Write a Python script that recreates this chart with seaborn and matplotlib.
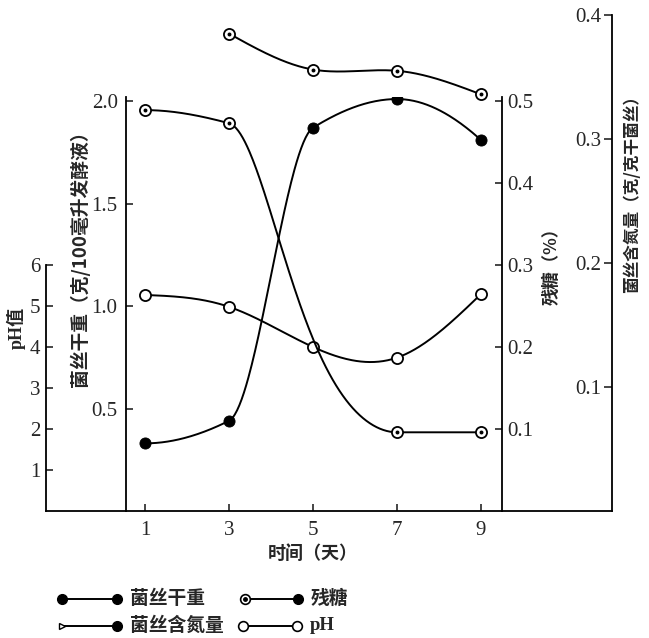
import numpy as np
import pandas as pd
import matplotlib
matplotlib.use("Agg")
import matplotlib.pyplot as plt
import seaborn as sns
from matplotlib.lines import Line2D

# ---------------- data ----------------
days = [1, 3, 5, 7, 9]
dry_weight = [0.33, 0.44, 1.87, 2.01, 1.81]          # 菌丝干重 (克/100毫升发酵液)
sugar_days = [1, 3, 7, 9]
sugar = [0.489, 0.473, 0.096, 0.096]                 # 残糖 (%)
nitrogen_days = [3, 5, 7, 9]
nitrogen = [0.385, 0.356, 0.355, 0.336]              # 菌丝含氮量 (克/克干菌丝)
ph = [5.27, 4.98, 4.00, 3.74, 5.29]                  # pH值

x_ticks = [1, 3, 5, 7, 9]
dry_ticks = [0.5, 1.0, 1.5, 2.0]
sugar_ticks = [0.1, 0.2, 0.3, 0.4, 0.5]
nitrogen_ticks = [0.1, 0.2, 0.3, 0.4]
ph_ticks = [1, 2, 3, 4, 5, 6]

# ---------------- smooth rendering helpers ----------------
def pchip(x, y, n=300):
    x = np.asarray(x, float); y = np.asarray(y, float)
    h = np.diff(x); d = np.diff(y) / h
    m = np.zeros_like(y)
    for k in range(1, len(x) - 1):
        if d[k - 1] * d[k] > 0:
            w1 = 2 * h[k] + h[k - 1]; w2 = h[k] + 2 * h[k - 1]
            m[k] = (w1 + w2) / (w1 / d[k - 1] + w2 / d[k])

    def end(h0, h1, d0, d1):
        mm = ((2 * h0 + h1) * d0 - h0 * d1) / (h0 + h1)
        if np.sign(mm) != np.sign(d0):
            mm = 0.0
        elif np.sign(d0) != np.sign(d1) and abs(mm) > abs(3 * d0):
            mm = 3 * d0
        return mm
    m[0] = end(h[0], h[1], d[0], d[1])
    m[-1] = end(h[-1], h[-2], d[-1], d[-2])
    xs = np.linspace(x[0], x[-1], n)
    idx = np.clip(np.searchsorted(x, xs) - 1, 0, len(x) - 2)
    t = (xs - x[idx]) / h[idx]
    h00 = 2 * t**3 - 3 * t**2 + 1; h10 = t**3 - 2 * t**2 + t
    h01 = -2 * t**3 + 3 * t**2; h11 = t**3 - t**2
    ys = h00 * y[idx] + h10 * h[idx] * m[idx] + h01 * y[idx + 1] + h11 * h[idx] * m[idx + 1]
    return xs, ys


def log_pchip(x, y, n=300):
    xs, ly = pchip(x, np.log(np.asarray(y, float)), n)
    return xs, np.exp(ly)


def natural_spline(x, y, n=300):
    x = np.asarray(x, float); y = np.asarray(y, float)
    N = len(x); h = np.diff(x)
    A = np.zeros((N, N)); b = np.zeros(N)
    A[0, 0] = 1; A[-1, -1] = 1
    for i in range(1, N - 1):
        A[i, i - 1] = h[i - 1]; A[i, i] = 2 * (h[i - 1] + h[i]); A[i, i + 1] = h[i]
        b[i] = 6 * ((y[i + 1] - y[i]) / h[i] - (y[i] - y[i - 1]) / h[i - 1])
    M = np.linalg.solve(A, b)
    xs = np.linspace(x[0], x[-1], n)
    idx = np.clip(np.searchsorted(x, xs) - 1, 0, N - 2)
    xi, xi1, hi = x[idx], x[idx + 1], h[idx]
    ys = (M[idx] * (xi1 - xs)**3 / (6 * hi) + M[idx + 1] * (xs - xi)**3 / (6 * hi)
          + (y[idx] / hi - M[idx] * hi / 6) * (xi1 - xs)
          + (y[idx + 1] / hi - M[idx + 1] * hi / 6) * (xs - xi))
    return xs, ys

# ---------------- style ----------------
sns.set_style("ticks")
plt.rcParams["font.family"] = ["Liberation Serif", "Noto Sans CJK SC", "DejaVu Sans"]
CJK = ["Noto Sans CJK SC", "DejaVu Sans"]
W, H = 649, 638
fig = plt.figure(figsize=(W / 100, H / 100), dpi=100)

def box(l, r, b, t):
    return [l / W, (H - b) / H, (r - l) / W, (b - t) / H]

LW = 1.4
MS = 64
BOT = 511

# main axes (dry weight) + twin (residual sugar)
ax = fig.add_axes(box(126, 502, BOT, 97))
ax.set_facecolor("none")
ax2 = ax.twinx()
ax2.set_position(box(126, 502, BOT, 97))
# pH axes
axp = fig.add_axes(box(46, 126, BOT, 265))
axp.set_facecolor("none")
# nitrogen axes
axn = fig.add_axes(box(502, 612, BOT, 15))
axn.set_facecolor("none")

# --- dry weight ---
xs, ys = pchip(days, dry_weight)
sns.lineplot(x=xs, y=ys, ax=ax, color="black", lw=LW, sort=False)
sns.scatterplot(x=days, y=dry_weight, ax=ax, color="black", s=MS, edgecolor="black", zorder=5)

# --- pH: x from main axes, y on the pH scale ---
xs, ys = natural_spline(days, ph)
ph_trans = matplotlib.transforms.blended_transform_factory(ax.transData, axp.transData)
ax.plot(xs, ys, color="black", lw=LW, transform=ph_trans)
ax.scatter(days, ph, s=MS, facecolor="white", edgecolor="black", lw=1.3,
           zorder=5, transform=ph_trans)

# --- sugar ---
xs, ys = log_pchip(sugar_days, sugar)
sns.lineplot(x=xs, y=ys, ax=ax2, color="black", lw=LW, sort=False)
sns.scatterplot(x=sugar_days, y=sugar, ax=ax2, s=MS, color="white", edgecolor="black",
                linewidth=1.3, zorder=5)
sns.scatterplot(x=sugar_days, y=sugar, ax=ax2, s=8, color="black", edgecolor="black",
                linewidth=0, zorder=6)

# --- nitrogen: x from main axes, y on the nitrogen scale ---
xs, ys = natural_spline(nitrogen_days, nitrogen)
n_trans = matplotlib.transforms.blended_transform_factory(ax.transData, axn.transData)
ax.plot(xs, ys, color="black", lw=LW, transform=n_trans, clip_on=False)
ax.scatter(nitrogen_days, nitrogen, s=MS, facecolor="white", edgecolor="black", lw=1.3,
           zorder=5, transform=n_trans, clip_on=False)
ax.scatter(nitrogen_days, nitrogen, s=8, color="black", lw=0,
           zorder=6, transform=n_trans, clip_on=False)

# ---------------- axes formatting ----------------
TICK_FS = 15
ax.set_xlim(0.548, 9.5)
ax.set_ylim(0, 2.02)
ax2.set_ylim(0, 0.505)
axp.set_ylim(0, 6)
axp.set_xlim(0, 1)
axn.set_ylim(0, 0.4)
axn.set_xlim(0, 1)

for a in (ax, ax2, axp, axn):
    for s in a.spines.values():
        s.set_linewidth(1.3)
        s.set_color("black")

ax.spines["top"].set_visible(False)
ax.spines["right"].set_visible(False)
ax2.spines["top"].set_visible(False)
ax2.spines["left"].set_visible(False)
ax2.spines["bottom"].set_visible(False)

ax.set_xticks(x_ticks)
ax.set_xticklabels([str(v) for v in x_ticks], fontsize=TICK_FS)
ax.set_yticks(dry_ticks)
ax.set_yticklabels([f"{v:.1f}" for v in dry_ticks], fontsize=TICK_FS)
ax.tick_params(axis="both", direction="in", length=5, width=1.2, pad=6)
ax.tick_params(axis="x", pad=7)
ax.set_xlabel(""); ax.set_ylabel("")

ax2.set_yticks(sugar_ticks)
ax2.set_yticklabels([f"{v:.1f}" for v in sugar_ticks], fontsize=TICK_FS)
ax2.tick_params(axis="y", direction="in", length=5, width=1.2, pad=4)
ax2.set_ylabel("")

axp.spines["top"].set_visible(False)
axp.spines["right"].set_visible(False)
axp.set_xticks([])
axp.set_yticks(ph_ticks)
axp.set_yticklabels([str(v) for v in ph_ticks], fontsize=TICK_FS)
axp.tick_params(axis="y", direction="in", length=5, width=1.2, pad=4)

axn.spines["top"].set_visible(False)
axn.spines["right"].set_visible(False)
axn.spines["left"].set_position(("axes", 1.0))
axn.set_xticks([])
axn.set_yticks(nitrogen_ticks)
axn.set_yticklabels([f"{v:.1f}" for v in nitrogen_ticks], fontsize=TICK_FS)
axn.tick_params(axis="y", direction="out", length=6, width=1.2, pad=2)

# ---------------- axis titles ----------------
def ftext(x, y, s, size, rot=0, **kw):
    fig.text(x / W, 1 - y / H, s, fontsize=size, rotation=rot, ha="center", va="center",
             family=kw.pop("family", CJK), fontweight="bold", **kw)

ftext(80, 254, "菌丝干重（克/100毫升发酵液）", 13.5, rot=90)
ftext(16, 328, "pH值", 13, rot=90, family=["Liberation Serif", "Noto Sans CJK SC"])
ftext(552, 262, "残糖（%）", 12.5, rot=90)
ftext(632, 190, "菌丝含氮量（克/克干菌丝）", 12, rot=90)
ftext(313, 553, "时间（天）", 13)

# ---------------- legend (drawn manually) ----------------
def leg(x0, x1, y, left_style, right_style, label):
    yy = 1 - y / H
    fig.add_artist(Line2D([x0 / W, x1 / W], [yy, yy], color="black", lw=LW))
    for xx, st in ((x0, left_style), (x1, right_style)):
        if st == "filled":
            fig.add_artist(Line2D([xx / W], [yy], marker="o", ms=7, color="black", mec="black"))
        elif st == "open":
            fig.add_artist(Line2D([xx / W], [yy], marker="o", ms=7, mfc="white", mec="black", mew=1.2))
        elif st == "dot":
            fig.add_artist(Line2D([xx / W], [yy], marker="o", ms=7, mfc="white", mec="black", mew=1.2))
            fig.add_artist(Line2D([xx / W], [yy], marker="o", ms=2.5, color="black"))
        elif st == "small":
            fig.add_artist(Line2D([xx / W], [yy], marker=">", ms=5, mfc="white", mec="black", mew=1.0))
    fig.text((x1 + 13) / W, yy, label, fontsize=13.5, va="center", ha="left",
             family=["Liberation Serif", "Noto Sans CJK SC"], fontweight="bold")

leg(62, 117, 599, "filled", "filled", "菌丝干重")
leg(245, 298, 599, "dot", "filled", "残糖")
leg(62, 117, 626, "small", "filled", "菌丝含氮量")
leg(243, 297, 626, "open", "open", "pH")

fig.savefig("out.png", dpi=100)
